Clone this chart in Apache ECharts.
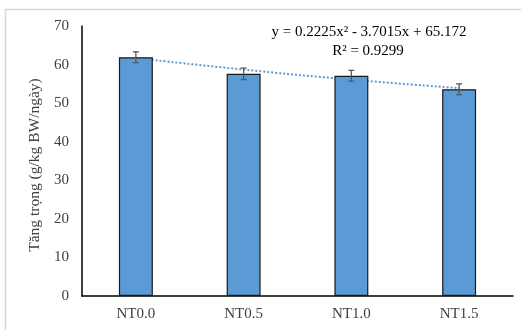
<!DOCTYPE html>
<html><head><meta charset="utf-8">
<script src="https://cdn.jsdelivr.net/npm/echarts@6/dist/echarts.min.js"></script>
<style>html,body{margin:0;padding:0;background:#fff}#c{width:521px;height:330px}</style>
</head><body><div id="c"></div>
<script>
const categories = ['NT0.0', 'NT0.5', 'NT1.0', 'NT1.5'];
const gainValues = [61.9, 57.6, 57.1, 53.6];
const gainErrors = [1.4, 1.5, 1.4, 1.4];
const trendValues = [61.7, 58.7, 56.1, 53.9];
const yTicks = [0, 10, 20, 30, 40, 50, 60, 70];
const equationText = 'y = 0.2225x² - 3.7015x + 65.172';
const r2Text = 'R² = 0.9299';
const yAxisTitle = 'Tăng trọng (g/kg BW/ngày)';

const chart = echarts.init(document.getElementById('c'));
const font = '"Liberation Serif", "Times New Roman", serif';
chart.setOption({
  animation: false,
  graphic: [
    { type: 'rect', shape: { x: 5.5, y: 9.5, width: 530, height: 330 },
      style: { fill: 'none', stroke: '#d9d9d9', lineWidth: 1.5 }, z: -10 },
    { type: 'text', style: { text: equationText, font: '15px ' + font, fill: '#000', align: 'center', verticalAlign: 'middle' }, x: 369, y: 32 },
    { type: 'text', style: { text: r2Text, font: '15px ' + font, fill: '#000', align: 'center', verticalAlign: 'middle' }, x: 368, y: 51 },
    { type: 'text', rotation: Math.PI / 2, x: 35, y: 165,
      style: { text: yAxisTitle, font: '15.5px ' + font, fill: '#404040', align: 'center', verticalAlign: 'middle' } }
  ],
  grid: { left: 82, right: 8, top: 26, bottom: 34 },
  xAxis: {
    type: 'category', data: categories,
    axisLine: { lineStyle: { color: '#000', width: 1.5 } },
    axisTick: { show: false },
    axisLabel: { color: '#404040', fontFamily: font, fontSize: 15, margin: 11 }
  },
  yAxis: {
    type: 'value', min: yTicks[0], max: yTicks[yTicks.length - 1], interval: 10,
    axisLine: { show: true, lineStyle: { color: '#000', width: 1.5 } },
    axisTick: { show: false },
    splitLine: { show: false },
    axisLabel: { color: '#404040', fontFamily: font, fontSize: 15, margin: 13 }
  },
  series: [
    {
      type: 'line', data: trendValues, smooth: true, symbol: 'none', z: 1,
      lineStyle: { color: '#5b9bd5', width: 2, type: [2, 2] }
    },
    {
      type: 'bar', data: gainValues, barWidth: '31.5%', z: 2,
      itemStyle: { color: '#5b9bd5', borderColor: '#1a1a1a', borderWidth: 1.2 }
    },
    {
      type: 'custom', z: 3,
      data: gainValues.map((v, i) => [i, v - gainErrors[i], v + gainErrors[i]]),
      renderItem: function (params, api) {
        const lo = api.coord([api.value(0), api.value(1)]);
        const hi = api.coord([api.value(0), api.value(2)]);
        const hw = 3;
        const st = { stroke: '#595959', lineWidth: 1.3 };
        return { type: 'group', children: [
          { type: 'line', shape: { x1: lo[0], y1: lo[1], x2: hi[0], y2: hi[1] }, style: st },
          { type: 'line', shape: { x1: lo[0] - hw, y1: lo[1], x2: lo[0] + hw, y2: lo[1] }, style: st },
          { type: 'line', shape: { x1: hi[0] - hw, y1: hi[1], x2: hi[0] + hw, y2: hi[1] }, style: st }
        ]};
      }
    }
  ]
});
</script></body></html>
